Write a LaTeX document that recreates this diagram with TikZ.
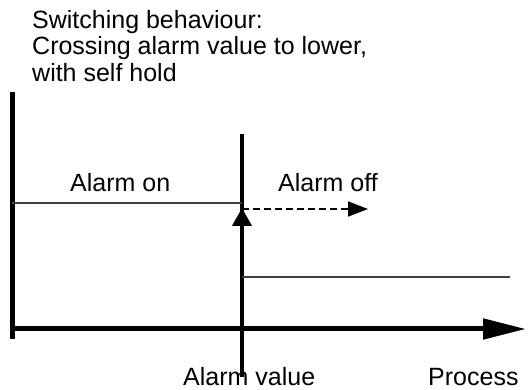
\documentclass[tikz,border=0pt]{standalone}
\usepackage{fontspec}
\setmainfont{Liberation Sans}
\usepackage{xcolor}
\usetikzlibrary{arrows.meta, positioning, calc}

\begin{document}
\begin{tikzpicture}[x=1pt, y=-1pt,
    lbl/.style={anchor=base west, inner sep=0pt, font=\fontsize{25}{26.5}\selectfont},
    level/.style={draw=black!75, line width=1.3pt},
    axis/.style={line width=5pt}]
    \useasboundingbox (0,0) rectangle (528,390);
    \coordinate (top) at (12,92);
    \coordinate (orig) at (12,329);
    \coordinate (bot) at (12,339);
    \coordinate (tip) at (526,329);
    \coordinate (avtop) at (242,134);
    \coordinate (avbot) at (242,377);
    \coordinate (on) at (12,203);
    \coordinate (sw) at (242,203);
    \coordinate (off) at (242,277);
    \coordinate (offend) at (510,277);
    % axes
    \draw[axis] (top) -- (bot);
    \draw[axis, -{Triangle[length=43pt, width=20pt]}] (orig) -- (tip);
    \draw[line width=4pt] (avtop) -- (avbot);
    % levels
    \draw[level] (on) -- (sw);
    \draw[level] (off) -- (offend);
    \draw[line width=4pt, -{Triangle[length=18pt, width=19pt]}] (242,250) -- (242,208);
    \draw[line width=1.8pt, dash pattern=on 7pt off 4pt, -{Triangle[length=20pt, width=15pt]}]
        (242,209) -- (368,209);
    % texts
    \node[lbl, align=left, anchor=north west] (title) at (32,10)
        {Switching behaviour:\\Crossing alarm value to lower,\\with self hold};
    \node[lbl] (alon) at (70,192) {Alarm on};
    \node[lbl] (aloff) at (278,192) {Alarm off};
    \node[lbl] (alval) at (183,385) {Alarm value};
    \node[lbl] (proc) at (428,385) {Process};
\end{tikzpicture}
\end{document}
